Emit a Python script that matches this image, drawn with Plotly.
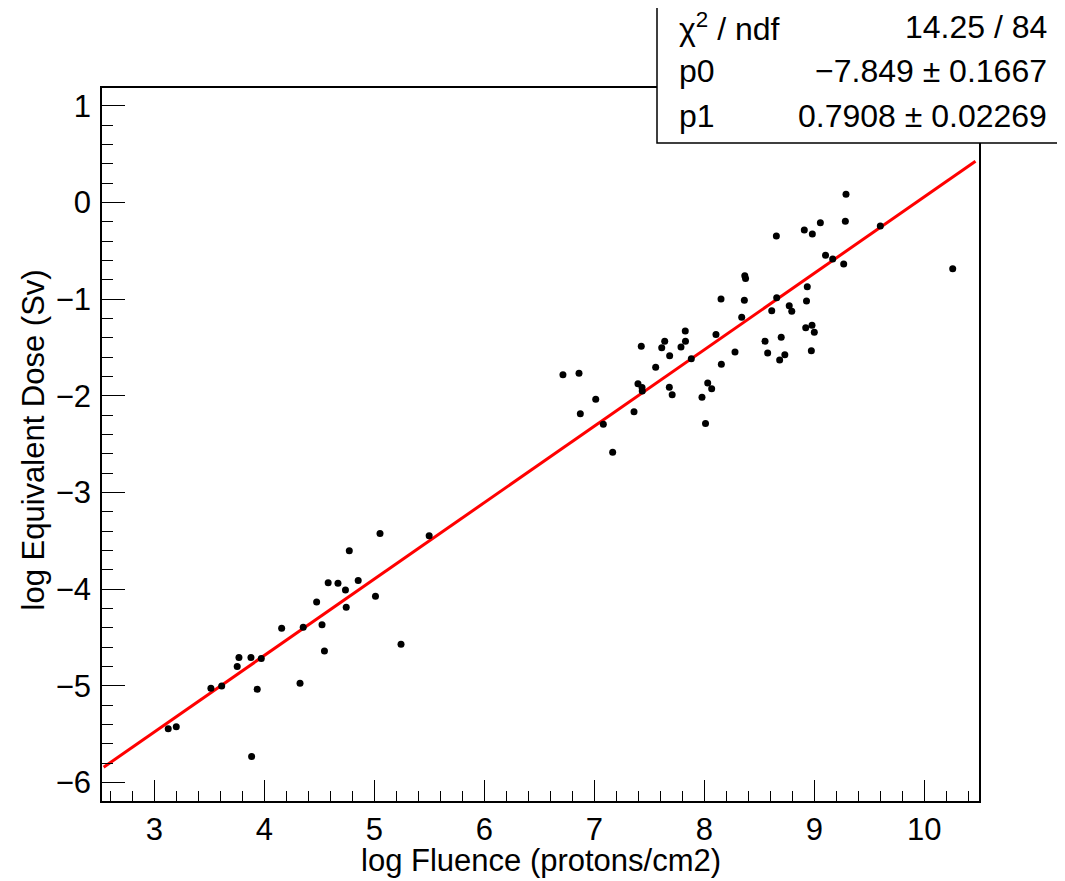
import plotly.graph_objects as go

# ---- data ----
log_fluence = [
    3.127, 3.200, 3.515, 3.613, 3.885, 3.754, 3.770, 3.879, 3.936, 3.973,
    4.158, 4.325, 4.354, 4.476, 4.525, 4.547, 4.581, 4.670, 4.738, 4.745,
    4.773, 4.854, 5.011, 5.052, 5.243, 5.499,
    6.715, 6.861, 6.873, 7.013, 7.082, 7.167, 7.361, 7.397, 7.427, 7.434,
    7.436, 7.558, 7.613, 7.640, 7.685, 7.682, 7.708, 7.788, 7.827, 7.829,
    7.882, 7.979, 8.011, 8.031, 8.067, 8.106, 8.152, 8.155, 8.279, 8.340,
    8.364, 8.368, 8.375, 8.552, 8.576, 8.613, 8.658, 8.685, 8.699, 8.732,
    8.772, 8.795,
    9.288, 9.055, 9.282, 8.909, 8.982, 8.655, 9.600, 9.102, 9.167, 9.267,
    10.258, 8.936, 8.929, 8.922, 8.979, 9.000, 8.973,
]
log_dose = [
    -5.442, -5.421, -5.024, -5.000, -5.731, -4.800, -4.705, -4.705, -5.034, -4.716,
    -4.403, -4.971, -4.393, -4.133, -4.366, -4.638, -3.932, -3.938, -4.007, -4.185,
    -3.601, -3.909, -4.072, -3.423, -4.569, -3.446,
    -1.781, -1.766, -2.184, -2.035, -2.294, -2.583, -2.163, -1.874, -1.487, -1.913,
    -1.949, -1.704, -1.502, -1.435, -1.584, -1.911, -1.988, -1.494, -1.329, -1.435,
    -1.615, -2.014, -2.287, -1.867, -1.926, -1.365, -0.998, -1.672, -1.546, -1.187,
    -1.011, -0.758, -0.786, -1.435, -1.556, -1.119, -0.986, -1.629, -1.394, -1.574,
    -1.067, -1.124,
    0.085, -0.209, -0.194, -0.284, -0.326, -0.346, -0.243, -0.546, -0.584, -0.636,
    -0.685, -0.871, -1.019, -1.295, -1.270, -1.342, -1.533,
]

# fit result (pol1): y = p0 + p1 * x
p0, p0_err = -7.849, 0.1667
p1, p1_err = 0.7908, 0.02269
chi2, ndf = 14.25, 84
fit_x_range = [2.54, 10.465]

x_title = "log Fluence (protons/cm2)"
y_title = "log Equivalent Dose (Sv)"

# ---- geometry: page pixels; the html body adds an 8px margin ----
OFF = 8
PAGE_W, PAGE_H = 1065, 881
W, H = PAGE_W - OFF, PAGE_H - OFF
L, R, T, B = 102, 979, 88, 801          # plot frame in page pixels
pw, ph = R - L, B - T


def px(xp):
    return (xp - L) / pw


def py(yp):
    return (B - yp) / ph


FONT = "Liberation Sans, Arial, Helvetica, sans-serif"
FS = 31
FS_STATS = 32

fit_y = [p0 + p1 * xv for xv in fit_x_range]

fig = go.Figure()
fig.add_trace(go.Scatter(
    x=fit_x_range, y=fit_y, mode="lines",
    line=dict(color="#ff0000", width=3), hoverinfo="skip", showlegend=False,
))
fig.add_trace(go.Scatter(
    x=log_fluence, y=log_dose, mode="markers",
    marker=dict(color="black", size=7, line=dict(width=0)),
    showlegend=False,
))

axis_common = dict(
    showgrid=False, zeroline=False, showline=True, mirror=True,
    linecolor="black", linewidth=1.5, ticks="inside", tickcolor="black",
    tickwidth=1.2, tickfont=dict(family=FONT, size=FS, color="black"),
    dtick=1, tick0=0,
)

fig.update_xaxes(
    **axis_common, range=[2.525, 10.497], ticklen=21,
    minor=dict(ticks="inside", ticklen=10, dtick=0.2, tick0=0,
               tickcolor="black", tickwidth=1.2, showgrid=False),
    ticklabelstandoff=0,
)
fig.update_yaxes(
    **axis_common, range=[-6.19, 1.184], ticklen=23,
    minor=dict(ticks="inside", ticklen=11, dtick=0.2, tick0=0,
               tickcolor="black", tickwidth=1.2, showgrid=False),
    ticklabelstandoff=3,
)

annotations = [
    dict(text=x_title, x=px((L + R) / 2), y=py(860), xref="paper", yref="paper",
         showarrow=False, xanchor="center", yanchor="middle",
         font=dict(family=FONT, size=FS, color="black")),
    dict(text=y_title, x=px(33), y=py((T + B) / 2 - 4), xref="paper", yref="paper",
         showarrow=False, xanchor="center", yanchor="middle", textangle=-90,
         font=dict(family=FONT, size=FS, color="black")),
]

rows = [
    ("χ<sup>2</sup> / ndf", f"{chi2:.2f} / {ndf}", 27),
    ("p0", f"\u2212{abs(p0):.3f} ± {p0_err:.4f}", 71),
    ("p1", f"{p1:.4f} ± {p1_err:.5f}", 116),
]
for lab, val, yc in rows:
    annotations.append(dict(text=lab, x=px(677), y=py(yc), xref="paper", yref="paper",
                            showarrow=False, xanchor="left", yanchor="middle",
                            font=dict(family=FONT, size=FS_STATS, color="black")))
    annotations.append(dict(text=val, x=px(1049), y=py(yc), xref="paper", yref="paper",
                            showarrow=False, xanchor="right", yanchor="middle",
                            font=dict(family=FONT, size=FS_STATS, color="black")))

shapes = [
    dict(type="rect", xref="paper", yref="paper",
         x0=px(657), x1=px(1064), y0=py(143), y1=py(-4),
         fillcolor="white", line=dict(color="black", width=1.5), layer="above"),
]

fig.update_layout(
    width=W, height=H,
    margin=dict(l=L - OFF, r=W - (R - OFF), t=T - OFF, b=H - (B - OFF), pad=0),
    paper_bgcolor="white", plot_bgcolor="white",
    annotations=annotations, shapes=shapes,
    showlegend=False,
)

fig.write_html("out.html")
